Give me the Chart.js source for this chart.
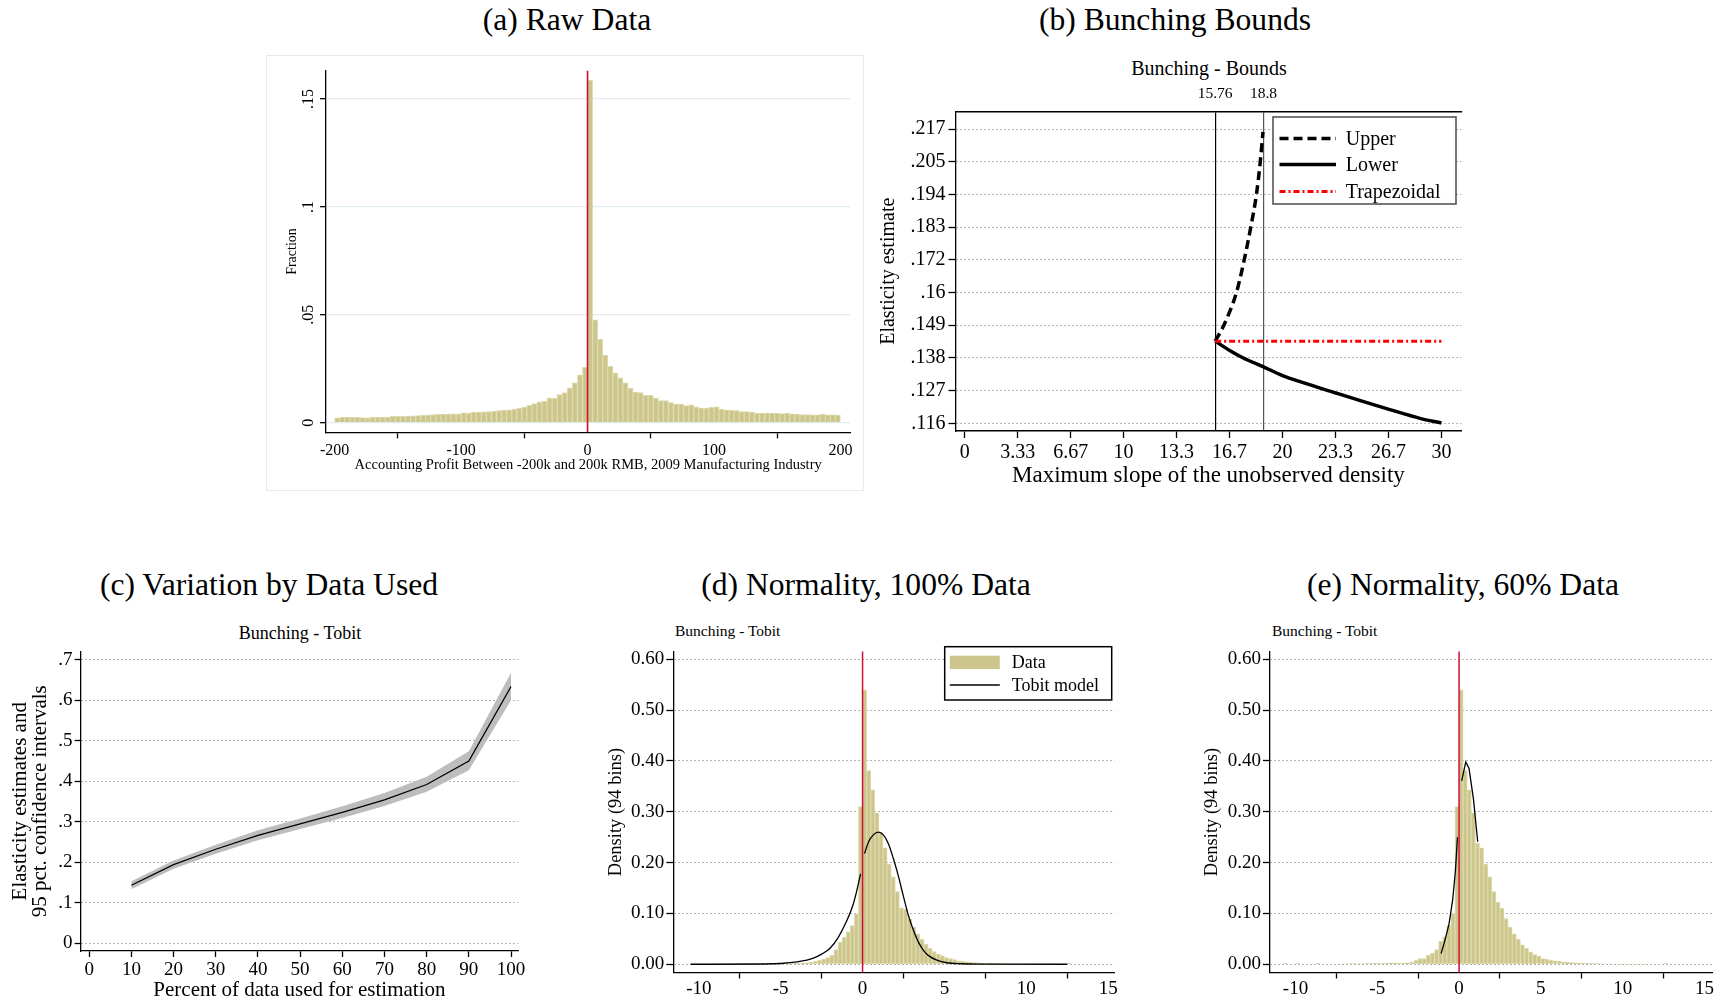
<!DOCTYPE html>
<html>
<head>
<meta charset="utf-8">
<script src="https://cdn.jsdelivr.net/npm/chart.js@4.4.0/dist/chart.umd.min.js"></script>
<style>
  body { margin:0; background:#fff; width:1722px; height:1003px; position:relative; overflow:hidden;
         font-family:'Liberation Serif','Times New Roman',serif; color:#000; }
  canvas { position:absolute; }
  .ttl { position:absolute; transform:translate(-50%,-50%); white-space:nowrap; font-size:31.6px;
         font-family:'Liberation Serif','Times New Roman',serif; }
  .sub { position:absolute; white-space:nowrap; }
  #frameA { position:absolute; left:266px; top:55px; width:596px; height:434px; border:1px solid #e9e9e9; }
</style>
</head>
<body>
<div id="frameA"></div>

<div class="ttl" style="left:567px;top:20px">(a) Raw Data</div>
<div class="ttl" style="left:1175px;top:20px">(b) Bunching Bounds</div>
<div class="ttl" style="left:269px;top:585px">(c) Variation by Data Used</div>
<div class="ttl" style="left:866px;top:585px">(d) Normality, 100% Data</div>
<div class="ttl" style="left:1463px;top:585px">(e) Normality, 60% Data</div>

<div class="sub" style="left:1209px;top:68px;transform:translate(-50%,-50%);font-size:20px">Bunching - Bounds</div>
<div class="sub" style="left:300px;top:633px;transform:translate(-50%,-50%);font-size:18px">Bunching - Tobit</div>
<div class="sub" style="left:675px;top:631px;transform:translate(0,-50%);font-size:15.5px">Bunching - Tobit</div>
<div class="sub" style="left:1272px;top:631px;transform:translate(0,-50%);font-size:15.5px">Bunching - Tobit</div>

<canvas id="chartA" width="597" height="435" style="left:266px;top:55px"></canvas>
<canvas id="chartB" width="600" height="420" style="left:870px;top:75px"></canvas>
<canvas id="chartC" width="530" height="363" style="left:0px;top:640px"></canvas>
<canvas id="chartD" width="530" height="363" style="left:590px;top:640px"></canvas>
<canvas id="chartE" width="532" height="363" style="left:1190px;top:640px"></canvas>

<script>
// ---------- dados (a) ----------
const aBinStart = -200, aBinWidth = 4;
const aFraction = [
  0.0022,0.0025,0.0026,0.0025,0.0025,0.0024,0.0023,0.0026,0.0026,0.0026,
  0.0026,0.0030,0.0030,0.0030,0.0031,0.0032,0.0033,0.0034,0.0035,0.0038,
  0.0039,0.0040,0.0040,0.0041,0.0041,0.0046,0.0044,0.0048,0.0049,0.0050,
  0.0052,0.0054,0.0056,0.0058,0.0060,0.0062,0.0066,0.0072,0.0080,0.0088,
  0.0096,0.0100,0.0114,0.0114,0.0130,0.0140,0.0162,0.0185,0.0222,0.0256,
  0.1588,0.0477,0.0386,0.0312,0.0261,0.0231,0.0208,0.0185,0.0160,0.0142,
  0.0140,0.0127,0.0127,0.0114,0.0103,0.0103,0.0093,0.0086,0.0086,0.0079,
  0.0083,0.0073,0.0068,0.0068,0.0071,0.0074,0.0063,0.0060,0.0057,0.0056,
  0.0052,0.0052,0.0049,0.0045,0.0045,0.0046,0.0044,0.0043,0.0042,0.0043,
  0.0041,0.0040,0.0038,0.0038,0.0037,0.0037,0.0040,0.0037,0.0036,0.0035
];
const aTicksX = [-200, -100, 0, 100, 200];
const aTicksY = [0, 0.05, 0.1, 0.15];
const aTickLabelsY = ['0', '.05', '.1', '.15'];

// ---------- dados (b) ----------
const bUpperX = [15.76, 16.31, 17.10, 17.59, 18.00, 18.36, 18.60, 18.77];
const bUpperY = [0.1442, 0.1497, 0.1609, 0.1721, 0.1833, 0.1946, 0.2058, 0.2160];
const bLowerX = [15.76, 16.7, 17.5, 18.8, 20, 21.1, 23.3, 25, 26.7, 28.65, 30];
const bLowerY = [0.1442, 0.1409, 0.1385, 0.1354, 0.1324, 0.1303, 0.1265, 0.1236, 0.1208, 0.1177, 0.1161];
const bTrapX = [15.76, 30];
const bTrapY = [0.1442, 0.1442];
const bXTickLabels = ['0', '3.33', '6.67', '10', '13.3', '16.7', '20', '23.3', '26.7', '30'];
const bXRange = [0, 30];
const bYTickLabels = ['.116', '.127', '.138', '.149', '.16', '.172', '.183', '.194', '.205', '.217'];
const bYRange = [0.116, 0.217];
const bRefLines = [15.76, 18.8];
const bRefLabels = ['15.76', '18.8'];

// ---------- dados (c) ----------
const cPct = [10, 20, 30, 40, 50, 60, 70, 80, 90, 100];
const cEst = [0.143, 0.194, 0.232, 0.266, 0.295, 0.323, 0.354, 0.392, 0.450, 0.634];
const cLo  = [0.133, 0.184, 0.221, 0.254, 0.282, 0.309, 0.339, 0.374, 0.427, 0.600];
const cHi  = [0.153, 0.204, 0.243, 0.279, 0.308, 0.338, 0.371, 0.411, 0.474, 0.668];
const cTicksX = [0, 10, 20, 30, 40, 50, 60, 70, 80, 90, 100];
const cTicksY = [0, 0.1, 0.2, 0.3, 0.4, 0.5, 0.6, 0.7];
const cTickLabelsY = ['0', '.1', '.2', '.3', '.4', '.5', '.6', '.7'];

// ---------- dados (d) e (e) ----------
const deBinStart = -10.75, deBinWidth = 0.25;
const dDensity = [
  0.0008,0.0003,0.0004,0.0005,0.0004,0.0005,0.0006,0.0005,0.0006,0.0007,
  0.0006,0.0008,0.0007,0.0008,0.0009,0.0008,0.0009,0.0010,0.0011,0.0010,
  0.0012,0.0011,0.0013,0.0012,0.0014,0.0016,0.0018,0.0020,
  0.0025,0.0030,0.0045,0.0057,0.0076,0.0096,0.013,0.018,0.029,0.043,0.053,0.064,0.076,0.099,0.310,
  0.540,0.381,0.343,0.298,0.258,0.229,0.197,0.172,0.143,0.111,0.108,0.089,0.073,0.060,0.049,0.039,0.032,0.025,0.020,0.017,0.013,
  0.011,0.009,0.007,0.006,0.005,0.004,0.0035,0.003,0.0025,0.002,0.0018,0.0015,0.0013,0.0012,0.0010,
  0.0010,0.0009,0.0008,0.0008,0.0007,0.0007,0.0006,0.0006,0.0005,0.0005,0.0004,0.0004,0.0003,0.0003,0.0015
];
const eDensity = [
  0.0015,0,0,0.0015,0,0,0,0,0.0015,0,
  0,0,0,0.0010,0.0010,0.0012,0.0012,0.0013,0.0012,0.0014,
  0.0013,0.0015,0.0016,0.0018,0.0020,0.0022,0.0025,0.0028,
  0.0020,0.0025,0.0030,0.0050,0.0076,0.011,0.011,0.018,0.022,0.029,0.045,0.054,0.076,0.100,0.310,
  0.540,0.381,0.343,0.298,0.238,0.229,0.197,0.172,0.143,0.122,0.110,0.090,0.073,0.060,0.049,0.038,0.032,0.024,0.019,0.016,0.011,
  0.0096,0.008,0.007,0.006,0.005,0.004,0.0035,0.003,0.0025,0.002,0.0018,0.0015,0.0013,0.0012,0.0010,
  0.0010,0.0009,0.0009,0.0008,0.0008,0.0007,0.0007,0.0006,0.0006,0.0005,0,0,0,0,0.0015
];
const dTobitX = [-10.5, -6, -5, -4, -3.5, -3, -2.5, -2, -1.5, -1, -0.6, -0.35, -0.12, 0,
                 0.12, 0.37, 0.67, 0.98, 1.28, 1.59, 1.89, 2.2, 2.5, 2.81, 3.12, 3.42, 3.73, 4.03, 4.54, 5.15, 6, 7, 12.5];
const dTobitY = [0, 0.0005, 0.0015, 0.0045, 0.0075, 0.012, 0.020, 0.031, 0.052, 0.083, 0.115, 0.145, 0.178, null,
                 0.218, 0.241, 0.255, 0.260, 0.254, 0.236, 0.207, 0.172, 0.133, 0.095, 0.066, 0.043, 0.027, 0.017, 0.008, 0.003, 0.001, 0.0002, 0];
const eTobitX = [-1.1, -0.855, -0.61, -0.39, -0.22, -0.1, 0, 0.16, 0.41, 0.61, 0.88, 1.14];
const eTobitY = [0.021, 0.048, 0.080, 0.127, 0.185, 0.250, null, 0.361, 0.398, 0.385, 0.325, 0.241];
const deTicksX = [-10, -5, 0, 5, 10, 15];
const deTicksY = [0, 0.1, 0.2, 0.3, 0.4, 0.5, 0.6];
const deTickLabelsY = ['0.00', '0.10', '0.20', '0.30', '0.40', '0.50', '0.60'];

// ---------- estilo ----------
const serif = "'Liberation Serif', 'Times New Roman', serif";
const barFill = '#cdc68c';
const barEdge = '#dedaae';
const zeroRed = '#cc1036';

Chart.defaults.font.family = serif;
Chart.defaults.color = '#000';
Chart.defaults.animation = false;
Chart.defaults.plugins.legend.display = false;
Chart.defaults.plugins.tooltip.enabled = false;

// fixa a largura/altura de um eixo
const fixSize = size => scale => { if (scale.isHorizontal()) scale.height = size; else scale.width = size; };
const setTicks = values => scale => { scale.ticks = values.map(v => ({ value: v })); };
const evenTicks = (labels, range) =>
  labels.map((_, i) => range[0] + i * (range[1] - range[0]) / (labels.length - 1));

const dotted = { display: true, color: '#000', width: 1.3, dash: [1.5, 2.5] };
const plainGrid = { drawOnChartArea: false, tickColor: '#000', tickWidth: 1.3, tickLength: 6 };

function histData(values, start, width) {
  return values.map((v, i) => ({ x: start + width * (i + 0.5), y: v }));
}

// linha vermelha em x = 0
const zeroLine = {
  id: 'zeroLine',
  afterDatasetsDraw(chart, args, opts) {
    const { ctx, chartArea, scales } = chart;
    const x = scales.x.getPixelForValue(0);
    ctx.save();
    ctx.strokeStyle = opts.color || zeroRed;
    ctx.lineWidth = opts.width || 1.5;
    ctx.beginPath();
    ctx.moveTo(x, chartArea.top);
    ctx.lineTo(x, chartArea.bottom);
    ctx.stroke();
    ctx.restore();
  }
};

// rótulos do eixo y girados (painel a)
const rotatedYTicks = {
  id: 'rotatedYTicks',
  afterDraw(chart, args, opts) {
    const { ctx, scales: { y } } = chart;
    ctx.save();
    ctx.font = '16px ' + serif;
    ctx.fillStyle = '#000';
    ctx.textAlign = 'center';
    ctx.textBaseline = 'middle';
    y.ticks.forEach((t, i) => {
      const py = y.getPixelForValue(t.value);
      ctx.save();
      ctx.translate(opts.x, py);
      ctx.rotate(-Math.PI / 2);
      ctx.fillText(opts.labels[i], 0, 0);
      ctx.restore();
    });
    ctx.restore();
  }
};

// ---------- (a) Raw Data ----------
new Chart(document.getElementById('chartA'), {
  type: 'bar',
  data: {
    datasets: [{
      data: histData(aFraction, aBinStart, aBinWidth),
      backgroundColor: barFill, borderColor: barEdge, borderWidth: 1,
      barPercentage: 1, categoryPercentage: 1
    }]
  },
  options: {
    responsive: false,
    layout: { autoPadding: false, padding: { left: 0, right: 12.8, top: 15.7, bottom: 0 } },
    scales: {
      x: {
        type: 'linear', offset: false, min: -206.8, max: 207.75,
        afterBuildTicks: setTicks(aTicksX), afterFit: fixSize(57.7),
        ticks: { font: { size: 16, lineHeight: 1 }, padding: 4, maxRotation: 0, autoSkip: false },
        grid: plainGrid,
        border: { display: true, color: '#000', width: 1.3 },
        title: { display: true, text: 'Accounting Profit Between -200k and 200k RMB, 2009 Manufacturing Industry',
                 font: { size: 14.5, lineHeight: 1 }, padding: { top: 0, bottom: 17.5 } }
      },
      y: {
        min: -0.00445, max: 0.1631,
        afterBuildTicks: setTicks(aTicksY), afterFit: fixSize(60.1),
        ticks: { display: false },
        grid: { color: '#e3edef', lineWidth: 1.3, tickColor: '#000', tickWidth: 1.3, tickLength: 6 },
        border: { display: true, color: '#000', width: 1.3 },
        title: { display: true, text: 'Fraction', font: { size: 14, lineHeight: 1 }, padding: { top: 19, bottom: 0 } }
      }
    },
    plugins: {
      zeroLine: { color: zeroRed, width: 1.6 },
      rotatedYTicks: { x: 42.6, labels: aTickLabelsY }
    }
  },
  plugins: [zeroLine, rotatedYTicks]
});

// ---------- (b) Bunching Bounds ----------
const legendB = {
  id: 'legendB',
  afterDraw(chart) {
    const ctx = chart.ctx;
    ctx.save();
    ctx.fillStyle = '#fff';
    ctx.fillRect(403, 42, 183, 87);
    ctx.strokeStyle = '#555';
    ctx.lineWidth = 1.6;
    ctx.strokeRect(403, 42, 183, 87);
    const items = [
      { label: 'Upper', y: 63.5, color: '#000', width: 3.5, dash: [9, 5] },
      { label: 'Lower', y: 89.5, color: '#000', width: 3.5, dash: [] },
      { label: 'Trapezoidal', y: 116.5, color: '#ff0000', width: 3, dash: [6, 3, 2, 3] }
    ];
    items.forEach(it => {
      ctx.strokeStyle = it.color;
      ctx.lineWidth = it.width;
      ctx.setLineDash(it.dash);
      ctx.beginPath();
      ctx.moveTo(409.5, it.y);
      ctx.lineTo(466, it.y);
      ctx.stroke();
      ctx.setLineDash([]);
      ctx.fillStyle = '#000';
      ctx.font = '20px ' + serif;
      ctx.textAlign = 'left';
      ctx.textBaseline = 'middle';
      ctx.fillText(it.label, 475.7, it.y + 1);
    });
    ctx.restore();
  }
};

const toXY = (xs, ys) => xs.map((x, i) => ({ x: x, y: ys[i] }));

new Chart(document.getElementById('chartB'), {
  type: 'line',
  data: {
    datasets: [
      { label: 'Trapezoidal', data: toXY(bTrapX, bTrapY), borderColor: '#ff0000', borderWidth: 3,
        borderDash: [6, 3, 2, 3], pointRadius: 0 },
      { label: 'Upper', data: toXY(bUpperX, bUpperY), borderColor: '#000', borderWidth: 3.5,
        borderDash: [9, 5], pointRadius: 0, cubicInterpolationMode: 'monotone' },
      { label: 'Lower', data: toXY(bLowerX, bLowerY), borderColor: '#000', borderWidth: 3.5,
        pointRadius: 0, cubicInterpolationMode: 'monotone' }
    ]
  },
  options: {
    responsive: false,
    layout: { autoPadding: false, padding: { left: 0, right: 8.7, top: 0, bottom: 0 } },
    scales: {
      x: {
        type: 'linear', min: -0.58, max: 31.25,
        afterBuildTicks: setTicks(evenTicks(bXTickLabels, bXRange)), afterFit: fixSize(64),
        ticks: { font: { size: 20, lineHeight: 1 }, padding: 5, maxRotation: 0, autoSkip: false,
                 callback: (v, i) => bXTickLabels[i] },
        grid: { drawOnChartArea: false, tickColor: '#000', tickWidth: 1.3, tickLength: 7 },
        border: { display: true, color: '#000', width: 1.5 },
        title: { display: true, text: 'Maximum slope of the unobserved density',
                 font: { size: 23, lineHeight: 1 }, padding: { top: 0, bottom: 7.5 } }
      },
      x2: {
        type: 'linear', position: 'top', min: -0.58, max: 31.25,
        afterBuildTicks: setTicks(bRefLines), afterFit: fixSize(36.5),
        ticks: { font: { size: 15.5, lineHeight: 1 }, padding: 9.5, maxRotation: 0, autoSkip: false,
                 callback: (v, i) => bRefLabels[i] },
        grid: { drawOnChartArea: true, drawTicks: false, lineWidth: 1.2,
                color: ctx => (ctx.index === 0 ? '#000' : '#555') },
        border: { display: true, color: '#000', width: 1.5 }
      },
      y: {
        min: 0.11336, max: 0.22301,
        afterBuildTicks: setTicks(evenTicks(bYTickLabels, bYRange)), afterFit: fixSize(85.5),
        ticks: { font: { size: 20, lineHeight: 1 }, padding: 3, autoSkip: false,
                 callback: (v, i) => bYTickLabels[i] },
        grid: { color: '#9a9a9a', lineWidth: 1, tickColor: '#000', tickWidth: 1.3, tickLength: 7 },
        border: dotted,
        title: { display: true, text: 'Elasticity estimate', font: { size: 20, lineHeight: 1 },
                 padding: { top: 9, bottom: 0 } }
      }
    }
  },
  plugins: [legendB]
});

// ---------- (c) Variation by Data Used ----------
new Chart(document.getElementById('chartC'), {
  type: 'line',
  data: {
    datasets: [
      { data: toXY(cPct, cEst), borderColor: '#000', borderWidth: 1.3, pointRadius: 0, fill: false, order: 0 },
      { data: toXY(cPct, cHi), borderWidth: 0, pointRadius: 0, fill: '+1', backgroundColor: '#bdbdbd', order: 1 },
      { data: toXY(cPct, cLo), borderWidth: 0, pointRadius: 0, fill: false, order: 2 }
    ]
  },
  options: {
    responsive: false,
    layout: { autoPadding: false, padding: { left: 0, right: 11.8, top: 5.5, bottom: 0 } },
    scales: {
      x: {
        type: 'linear', min: -2.04, max: 101.7,
        afterBuildTicks: setTicks(cTicksX), afterFit: fixSize(52),
        ticks: { font: { size: 19, lineHeight: 1 }, padding: 3.5, maxRotation: 0, autoSkip: false },
        grid: plainGrid,
        border: { display: true, color: '#000', width: 1.3 },
        title: { display: true, text: 'Percent of data used for estimation',
                 font: { size: 21, lineHeight: 1 }, padding: { top: 0, bottom: 2.5 } }
      },
      y: {
        min: -0.01938, max: 0.7206,
        afterBuildTicks: setTicks(cTicksY), afterFit: fixSize(80.6),
        ticks: { font: { size: 19, lineHeight: 1 }, padding: 2, autoSkip: false,
                 callback: (v, i) => cTickLabelsY[i] },
        grid: { color: '#9a9a9a', lineWidth: 1, tickColor: '#000', tickWidth: 1.3, tickLength: 6 },
        border: dotted,
        title: { display: true, text: ['Elasticity estimates and', '95 pct. confidence intervals'],
                 font: { size: 21, lineHeight: 0.98 }, padding: { top: 10, bottom: 0 } }
      }
    }
  }
});

// ---------- (d) e (e) Normality ----------
const legendD = {
  id: 'legendD',
  afterDraw(chart) {
    const ctx = chart.ctx;
    ctx.save();
    ctx.fillStyle = '#fff';
    ctx.fillRect(354.7, 6.7, 167, 53.3);
    ctx.strokeStyle = '#000';
    ctx.lineWidth = 1.5;
    ctx.strokeRect(354.7, 6.7, 167, 53.3);
    ctx.fillStyle = barFill;
    ctx.fillRect(359.8, 15.7, 50, 13.3);
    ctx.strokeStyle = '#000';
    ctx.lineWidth = 1.3;
    ctx.beginPath();
    ctx.moveTo(359.8, 45);
    ctx.lineTo(409.8, 45);
    ctx.stroke();
    ctx.fillStyle = '#000';
    ctx.font = '18px ' + serif;
    ctx.textAlign = 'left';
    ctx.textBaseline = 'middle';
    ctx.fillText('Data', 421.8, 23.5);
    ctx.fillText('Tobit model', 421.8, 46.5);
    ctx.restore();
  }
};

function normalityChart(id, density, tobitX, tobitY, layout, smooth, withLegend) {
  const plugins = [zeroLine];
  if (withLegend) plugins.push(legendD);
  return new Chart(document.getElementById(id), {
    type: 'bar',
    data: {
      datasets: [
        { type: 'line', data: toXY(tobitX, tobitY), borderColor: '#000', borderWidth: 1.3,
          pointRadius: 0, spanGaps: false, cubicInterpolationMode: smooth ? 'monotone' : 'default',
          tension: 0, order: 0 },
        { data: histData(density, deBinStart, deBinWidth), backgroundColor: barFill, borderColor: barEdge,
          borderWidth: 1, barPercentage: 1, categoryPercentage: 1, order: 1 }
      ]
    },
    options: {
      responsive: false,
      layout: { autoPadding: false, padding: { left: 0, right: layout.right, top: 2, bottom: 0 } },
      scales: {
        x: {
          type: 'linear', offset: false, min: layout.min, max: layout.max,
          afterBuildTicks: setTicks(deTicksX), afterFit: fixSize(30.5),
          ticks: { font: { size: 19, lineHeight: 1 }, padding: 1, maxRotation: 0, autoSkip: false },
          grid: plainGrid,
          border: { display: true, color: '#000', width: 1.3 }
        },
        y: {
          min: -0.0162, max: 0.6153,
          afterBuildTicks: setTicks(deTicksY), afterFit: fixSize(layout.yWidth),
          ticks: { font: { size: 19, lineHeight: 1 }, padding: 2, autoSkip: false,
                   callback: (v, i) => deTickLabelsY[i] },
          grid: { color: '#9a9a9a', lineWidth: 1, tickColor: '#000', tickWidth: 1.3, tickLength: 7 },
          border: dotted,
          title: { display: true, text: 'Density (94 bins)', font: { size: 18.5, lineHeight: 1 },
                   padding: { top: layout.titlePad, bottom: 0 } }
        }
      },
      plugins: { zeroLine: { color: zeroRed, width: 1.5 } }
    },
    plugins: plugins
  });
}

normalityChart('chartD', dDensity, dTobitX, dTobitY,
  { right: 5.3, min: -11.557, max: 15.397, yWidth: 83.3, titlePad: 16.5 }, true, true);
normalityChart('chartE', eDensity, eTobitX, eTobitY,
  { right: 9.4, min: -11.559, max: 15.5, yWidth: 80, titlePad: 12.8 }, false, false);
</script>
</body>
</html>
